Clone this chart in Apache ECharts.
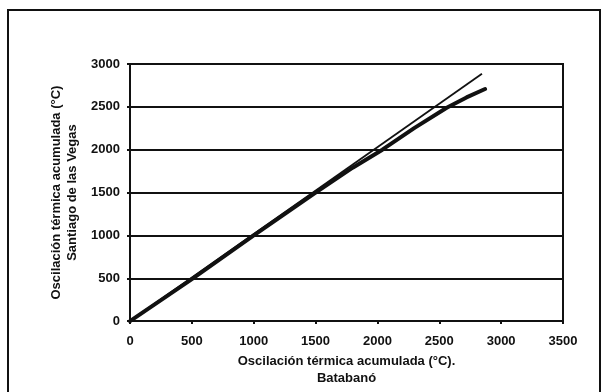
<!DOCTYPE html>
<html>
<head>
<meta charset="utf-8">
<script src="https://cdn.jsdelivr.net/npm/echarts@6/dist/echarts.min.js"></script>
<style>
  html, body { margin: 0; padding: 0; background: #fff; }
  #chart { width: 603px; height: 392px; }
</style>
</head>
<body>
<div id="chart"></div>
<script>
// thin line (reference line) and thick line (accumulated values)
var thinLine = [[0, 0], [2845, 2885]];
var thickLine = [[0, 0], [500, 490], [1000, 1000], [1500, 1500], [1800, 1790], [2040, 2000],
                 [2300, 2255], [2560, 2490], [2720, 2610], [2870, 2708]];
var xTitle = 'Oscilación térmica acumulada (°C).\nBatabanó';
var yTitle = 'Oscilación térmica acumulada (°C)\nSantiago de las Vegas';

var myChart = echarts.init(document.getElementById('chart'));
var font = { fontFamily: 'Liberation Sans', fontWeight: 'bold', fontSize: 13, color: '#111' };
option = {
  backgroundColor: '#fff',
  animation: false,
  graphic: [{
    type: 'rect',
    shape: { x: 8, y: 10, width: 592, height: 400 },
    style: { fill: 'none', stroke: '#111', lineWidth: 2 }
  }],
  grid: {
    left: 130, right: 40, top: 64, bottom: 68,
    show: true, borderColor: '#111', borderWidth: 2, backgroundColor: '#fff'
  },
  xAxis: {
    type: 'value', min: 0, max: 3500, interval: 500,
    name: xTitle, nameLocation: 'middle', nameGap: 30,
    nameTextStyle: Object.assign({ lineHeight: 17, verticalAlign: 'top' }, font),
    axisLine: { lineStyle: { color: '#111', width: 2 } },
    axisTick: { show: true, length: 3, lineStyle: { color: '#111', width: 2 } },
    axisLabel: Object.assign({ margin: 14, formatter: function (v) { return String(v); } }, font),
    splitLine: { show: false }
  },
  yAxis: {
    type: 'value', min: 0, max: 3000, interval: 500,
    name: yTitle, nameLocation: 'middle', nameGap: 46,
    nameTextStyle: Object.assign({ lineHeight: 16 }, font),
    axisLine: { show: true, lineStyle: { color: '#111', width: 2 } },
    axisTick: { show: true, length: 3, lineStyle: { color: '#111', width: 2 } },
    axisLabel: Object.assign({ margin: 10, formatter: function (v) { return String(v); } }, font),
    splitLine: { show: true, lineStyle: { color: '#111', width: 2 } }
  },
  series: [{
    name: 'thin', type: 'line', data: thinLine, showSymbol: false,
    lineStyle: { color: '#111', width: 1.8 }
  }, {
    name: 'thick', type: 'line', data: thickLine, showSymbol: false,
    lineStyle: { color: '#111', width: 4, cap: 'round', join: 'round' }
  }]
};
myChart.setOption(option);
</script>
</body>
</html>
